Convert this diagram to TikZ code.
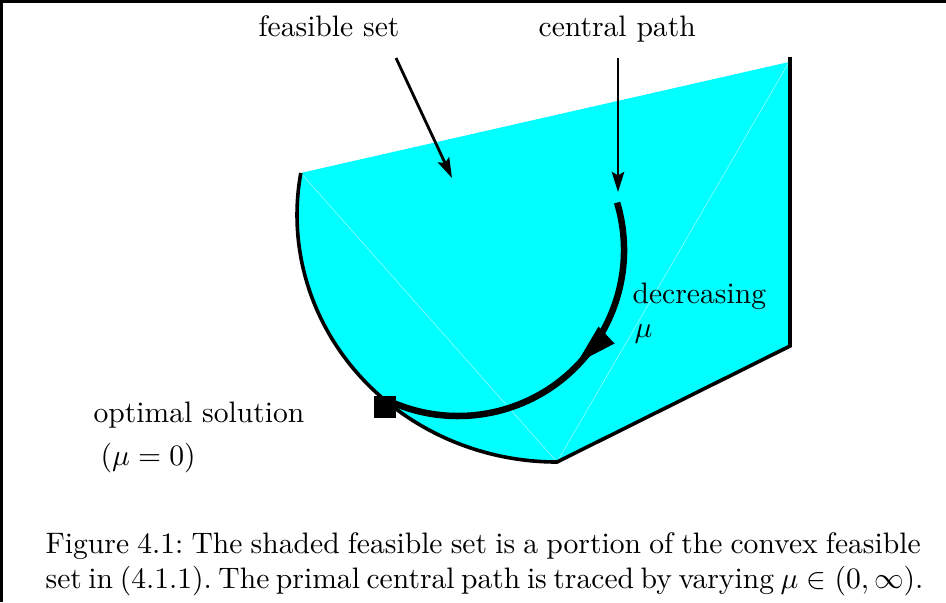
\documentclass[tikz,border=0pt]{standalone}
\usetikzlibrary{arrows.meta,calc}
\definecolor{setcyan}{rgb}{0,1,1}
\definecolor{seamcyan}{rgb}{0.65,1,1}
\def\u{0.3378pt}
\begin{document}
\begin{tikzpicture}[x=\u,y=\u,
  outline/.style={line width=3.6*\u, line join=miter},
  pathline/.style={line width=6.5*\u},
  pointer/.style={line width=2.8*\u, -{Stealth[length=6.8pt,width=4.2pt,inset=1.2pt]}},
  seam/.style={line width=0.5*\u, seamcyan},
  lbl/.style={anchor=base west, inner sep=0pt, font=\normalsize}]
\useasboundingbox (0,0) rectangle (946,602);
% frame (left and top rules)
\draw[line width=3*\u] (1.5,0) -- (1.5,600.5) -- (946,600.5);
% feasible set
\coordinate (P1) at (300.8,429);
\coordinate (P2) at (789,540);
\coordinate (P3) at (790,256);
\coordinate (P4) at (557,140);
\coordinate (Ptop) at (790,545);
\fill[setcyan] (P4) arc[start angle=270,end angle=170.2,x radius=260,y radius=247] -- (P2) -- (P3) -- cycle;
\draw[seam] (P1) -- (P4) -- (P2);
\draw[outline] (Ptop) -- (P3) -- (P4) arc[start angle=270,end angle=170.2,x radius=260,y radius=247];
% central path
\coordinate (C0) at (458,352);
\coordinate (A) at ($(C0)+(16.6:166)$);
\node[fill=black, minimum size=22*\u, inner sep=0pt] (opt) at (384.5,195) {};
\draw[pathline] (A) arc[start angle=16.6,end angle=-112,radius=166] -- (opt.center);
\fill (577,239) -- (614.5,258.5) -- (598.5,275.5) -- cycle;
% labels
\node[lbl] (fs) at (258,566) {feasible set};
\node[lbl] (cp) at (538,566) {central path};
\node[lbl] (dec) at (632,299) {decreasing};
\node[lbl] (mu) at (634,265) {$\mu$};
\node[lbl] (os) at (93,180) {optimal solution};
\node[lbl] (mz) at (100,137) {$(\mu=0)$};
\coordinate (fsA) at (396,544);
\coordinate (fsB) at (452,424);
\coordinate (cpA) at (618,544);
\coordinate (cpB) at (618,410);
\draw[pointer] (fsA) -- (fsB);
\draw[pointer] (cpA) -- (cpB);
% caption
\node[lbl] (cap1) at (45,49) {\makebox[295.6pt][s]{\frenchspacing Figure 4.1: The shaded feasible set is a portion of the convex feasible}};
\node[lbl] (cap2) at (45,14) {\makebox[294.9pt][s]{\frenchspacing set in (4.1.1). The primal central path is traced by varying $\mu\in(0,\infty)$.}};
\end{tikzpicture}
\end{document}
